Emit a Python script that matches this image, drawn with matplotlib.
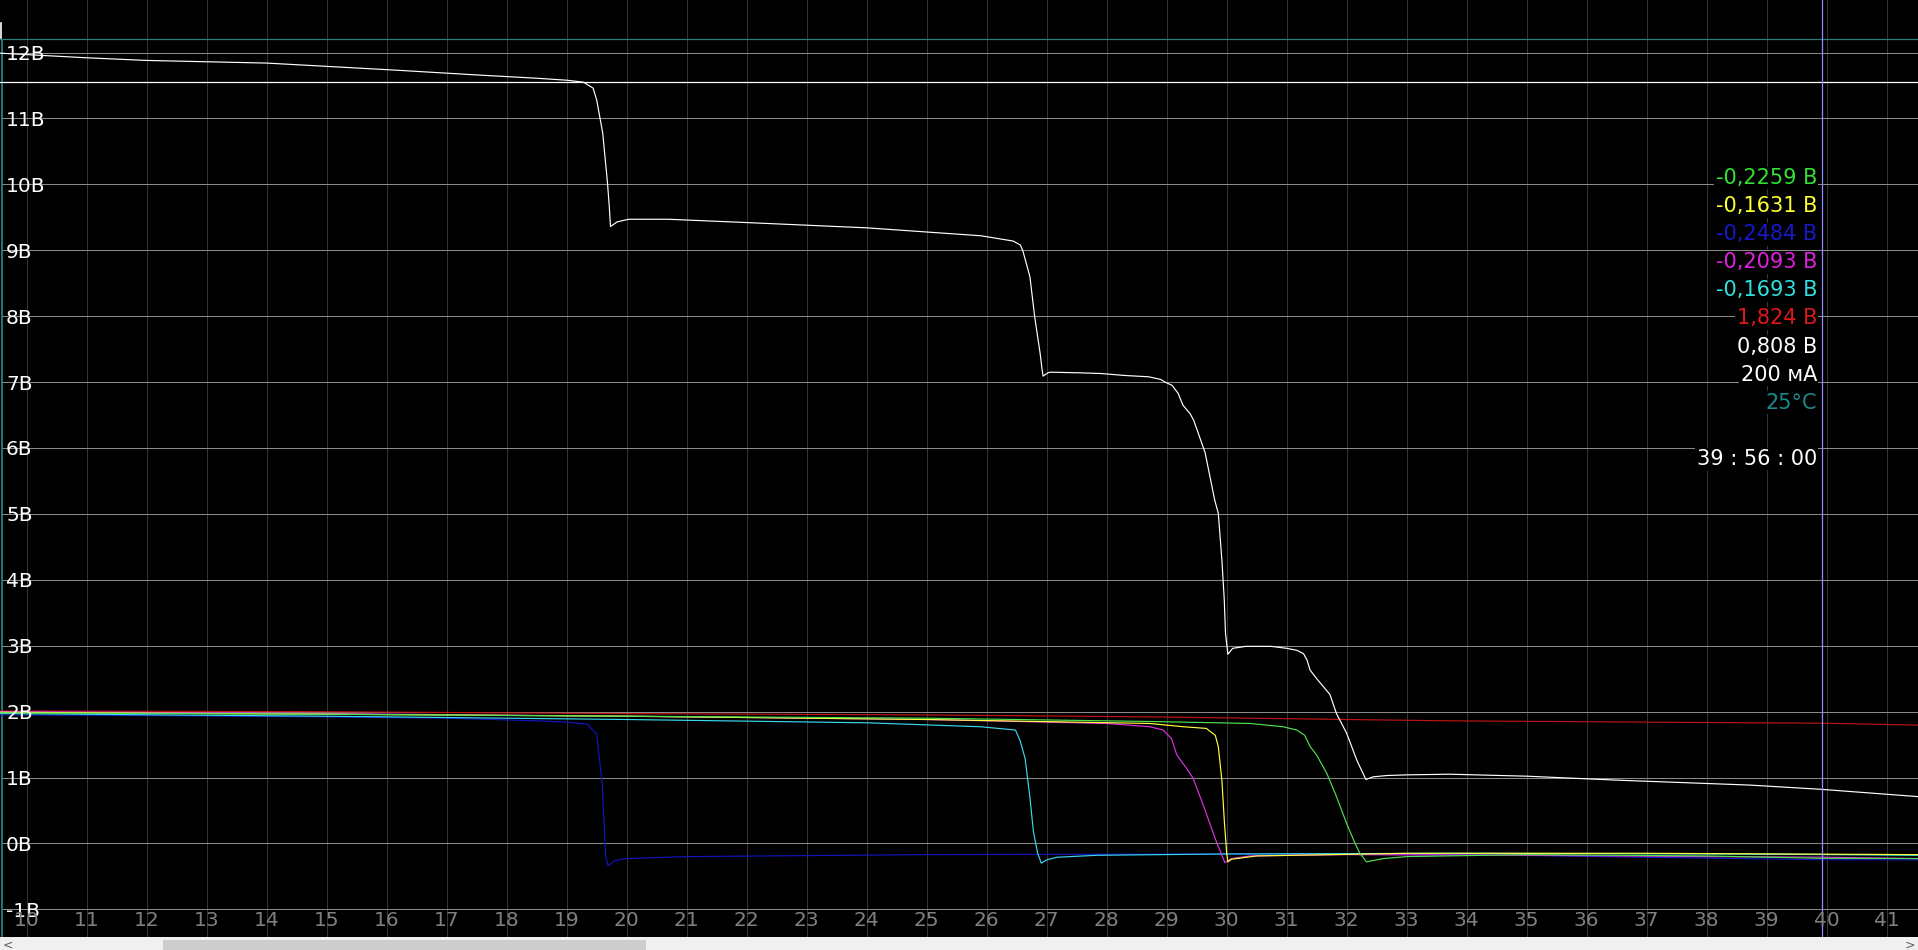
import matplotlib
matplotlib.use("Agg")
import matplotlib.pyplot as plt
from matplotlib.patches import Rectangle
from matplotlib.transforms import blended_transform_factory

plt.rcParams['font.family'] = ['DejaVu Sans']

# ---------------- data ----------------
x_ticks = list(range(10, 42))
y_ticks = list(range(-1, 13))
y_tick_labels = [f"{v}В" for v in y_ticks]

pack_t = [9.56, 11.0, 12.0, 13.0, 14.0, 15.0, 16.2, 17.5, 18.5, 19.0, 19.28, 19.44, 19.5, 19.6,
          19.68, 19.71, 19.73, 19.84, 20.03, 20.7, 22.0, 24.0, 25.9, 26.44, 26.56, 26.6, 26.72,
          26.8, 26.89, 26.92, 26.94, 27.02, 27.06, 27.56, 27.9, 28.3, 28.7, 28.9, 28.97, 29.09,
          29.19, 29.27, 29.39, 29.45, 29.64, 29.8, 29.86, 29.92, 29.96, 29.98, 30.02, 30.1, 30.32,
          30.74, 31.0, 31.17, 31.28, 31.34, 31.39, 31.5, 31.72, 31.83, 32.0, 32.17, 32.32, 32.44,
          32.67, 33.0, 33.72, 35.0, 36.5, 38.72, 39.92, 41.52]
pack_v = [11.99, 11.92, 11.88, 11.86, 11.84, 11.79, 11.73, 11.66, 11.61, 11.58, 11.55, 11.46, 11.28, 10.78,
          10.02, 9.66, 9.36, 9.43, 9.47, 9.47, 9.42, 9.34, 9.22, 9.14, 9.08, 9.0, 8.6,
          7.99, 7.44, 7.21, 7.09, 7.14, 7.15, 7.14, 7.13, 7.10, 7.08, 7.04, 7.0, 6.95,
          6.83, 6.65, 6.52, 6.42, 5.93, 5.21, 5.01, 4.30, 3.69, 3.19, 2.87, 2.96, 2.99,
          2.99, 2.96, 2.93, 2.88, 2.78, 2.63, 2.50, 2.26, 1.97, 1.67, 1.26, 0.97, 1.01,
          1.03, 1.04, 1.05, 1.02, 0.96, 0.885, 0.82, 0.71]

red_t = [9.56, 14.56, 20.0, 25.0, 28.7, 33.7, 38.7, 39.93, 41.52]
red_v = [2.01, 2.0, 1.97, 1.95, 1.92, 1.86, 1.83, 1.824, 1.795]

blue_t = [9.56, 12.0, 15.0, 17.0, 18.5, 19.0, 19.34, 19.5, 19.59, 19.65, 19.69, 19.8, 20.0,
          21.0, 25.0, 30.0, 34.0, 37.0, 39.93, 41.52]
blue_v = [1.95, 1.94, 1.92, 1.90, 1.86, 1.84, 1.81, 1.66, 0.92, -0.2, -0.34, -0.26, -0.23,
          -0.20, -0.17, -0.16, -0.17, -0.21, -0.248, -0.25]

cyan_t = [9.56, 15.0, 20.0, 24.0, 25.9, 26.48, 26.56, 26.64, 26.72, 26.78, 26.85, 26.91, 27.0,
          27.17, 27.84, 30.0, 34.0, 38.0, 39.93, 41.52]
cyan_v = [1.97, 1.93, 1.88, 1.83, 1.77, 1.72, 1.55, 1.29, 0.7, 0.17, -0.15, -0.30, -0.25,
          -0.21, -0.18, -0.16, -0.15, -0.16, -0.169, -0.18]

magenta_t = [9.56, 15.0, 20.0, 25.0, 28.0, 28.72, 28.94, 29.08, 29.17, 29.33, 29.44, 29.61, 29.72,
             29.83, 29.97, 30.08, 30.39, 32.0, 35.0, 38.0, 39.93, 41.52]
magenta_v = [2.0, 1.97, 1.93, 1.88, 1.82, 1.77, 1.72, 1.59, 1.34, 1.14, 0.99, 0.58, 0.30,
             0.02, -0.29, -0.23, -0.19, -0.17, -0.18, -0.2, -0.209, -0.23]

yellow_t = [9.56, 15.0, 20.0, 25.0, 28.72, 29.28, 29.66, 29.81, 29.86, 29.92, 29.96, 30.0, 30.02,
            30.08, 30.5, 33.0, 37.0, 39.93, 41.52]
yellow_v = [1.99, 1.96, 1.93, 1.88, 1.82, 1.77, 1.745, 1.64, 1.47, 0.96, 0.35, -0.15, -0.28,
            -0.24, -0.19, -0.15, -0.15, -0.163, -0.17]

green_t = [9.56, 15.0, 20.0, 25.0, 28.72, 30.39, 30.94, 31.17, 31.3, 31.39, 31.5, 31.67, 31.83,
           32.0, 32.14, 32.22, 32.33, 32.61, 33.0, 35.0, 38.0, 39.93, 41.52]
green_v = [1.98, 1.96, 1.93, 1.90, 1.85, 1.82, 1.77, 1.72, 1.64, 1.47, 1.34, 1.06, 0.71,
           0.30, 0.0, -0.15, -0.28, -0.23, -0.20, -0.17, -0.19, -0.226, -0.23]

cursor_t = 39.93
top_border_v = 12.2
level_line_v = 11.55

readout_texts = ["-0,2259 В", "-0,1631 В", "-0,2484 В", "-0,2093 В", "-0,1693 В",
                 "1,824 В", "0,808 В", "200 мА", "25°C"]
readout_colors = ["#33e033", "#ffff33", "#1818c8", "#e020e0", "#30e0e0",
                  "#e01818", "#ffffff", "#ffffff", "#1a8a8a"]
time_text = "39 : 56 : 00"

# ---------------- layout ----------------
W, H = 1918, 950
SB = 13
fig = plt.figure(figsize=(W / 100, H / 100), dpi=100, facecolor="black")
ax = fig.add_axes([0, SB / H, 1, 1 - SB / H])
ax.set_facecolor("black")
X0, X1 = 9.555, 41.522
Y0, Y1 = -1.42, 12.797
ax.set_xlim(X0, X1)
ax.set_ylim(Y0, Y1)
for s in ax.spines.values():
    s.set_visible(False)
ax.set_xticks([])
ax.set_yticks([])

px = (X1 - X0) / W  # data units per pixel in x
left_border = X0 + 2 * px

# grid
ax.vlines(x_ticks, Y0, Y1, colors="#343434", lw=0.72, zorder=1, antialiased=False)
ax.hlines(y_ticks, left_border, X1, colors="#8a8a8a", lw=0.72, zorder=1, antialiased=False)
ax.axhline(top_border_v, color="#2a7a7a", lw=0.9, zorder=2)
ax.vlines([left_border], Y0, top_border_v, colors="#2a8a8a", lw=1.2, zorder=2)
ax.axhline(level_line_v, color="#ffffff", lw=0.9, zorder=2)

# curves
lw = 0.85
ax.plot(red_t, red_v, color="#c01414", lw=lw, zorder=3)
ax.plot(blue_t, blue_v, color="#1414c0", lw=lw, zorder=3)
ax.plot(cyan_t, cyan_v, color="#38d8f0", lw=lw, zorder=3)
ax.plot(magenta_t, magenta_v, color="#e030e0", lw=lw, zorder=3)
ax.plot(yellow_t, yellow_v, color="#ffff40", lw=lw, zorder=3)
ax.plot(green_t, green_v, color="#50e050", lw=lw, zorder=3)
ax.plot(pack_t, pack_v, color="#ffffff", lw=lw, zorder=4)

ax.axvline(cursor_t, color="#8c8cff", lw=0.9, zorder=5)

# y labels
ty = blended_transform_factory(ax.transAxes, ax.transData)
for v, lab in zip(y_ticks, y_tick_labels):
    ax.text(6 / W, v, lab, transform=ty, color="white", fontsize=14.5,
            ha="left", va="center_baseline", zorder=6)

# x labels
tx = blended_transform_factory(ax.transData, ax.transAxes)
ax_h = H - SB
for t in x_ticks:
    ax.text(t, (ax_h - 918.7) / ax_h, str(t), transform=tx, color="#808080",
            fontsize=14.5, ha="center", va="center_baseline", zorder=6)

# readouts
right_x = 1817 / W
y_start = 176.0
dy = 28.1
for i, (s, c) in enumerate(zip(readout_texts, readout_colors)):
    yy = 1 - (y_start + i * dy) / ax_h
    ax.text(right_x, yy, s, transform=ax.transAxes, color=c, fontsize=15,
            ha="right", va="center_baseline", zorder=7,
            bbox=dict(facecolor="black", edgecolor="none", pad=1.0))
ax.text(right_x, 1 - 457 / ax_h, time_text, transform=ax.transAxes, color="white",
        fontsize=15, ha="right", va="center_baseline", zorder=7,
        bbox=dict(facecolor="black", edgecolor="none", pad=1.0))

# small white mark at top-left
ax.plot([X0 + 0.5 * px, X0 + 0.5 * px], [Y1 - 23 / 65.9, Y1 - 38 / 65.9], color="white", lw=1.2)

# scrollbar
sb = fig.add_axes([0, 0, 1, SB / H])
sb.set_xlim(0, W)
sb.set_ylim(0, SB)
sb.set_facecolor("#f0f0f0")
for s in sb.spines.values():
    s.set_visible(False)
sb.set_xticks([])
sb.set_yticks([])
sb.add_patch(Rectangle((163, 0), 646 - 163, 10.5, facecolor="#cdcdcd", edgecolor="none"))
sb.text(8, 5, "<", color="#606060", fontsize=9, ha="center", va="center")
sb.text(W - 8, 5, ">", color="#606060", fontsize=9, ha="center", va="center")

fig.savefig("out.png", dpi=100, facecolor="black")
